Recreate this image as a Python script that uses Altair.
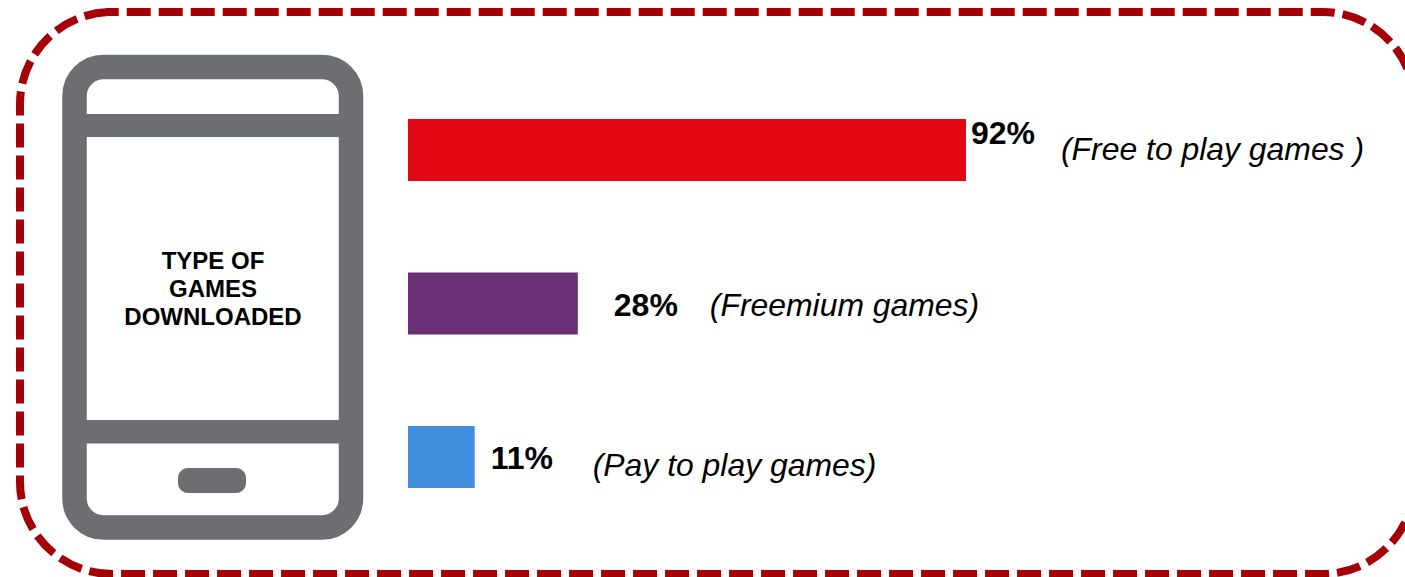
import altair as alt
import pandas as pd

# Survey shares of downloaded game types
categories = ["Free to play games", "Freemium games", "Pay to play games"]
shares = [92, 28, 11]
descriptions = ["(Free to play games )", "(Freemium games)", "(Pay to play games)"]
bar_colors = ["#E30613", "#6B2F76", "#428FE0"]
phone_caption = ["TYPE OF", "GAMES", "DOWNLOADED"]

FONT = "Liberation Sans"
PHONE_GREY = "#6D6E71"
FRAME_RED = "#A50008"

table = pd.DataFrame(
    {
        "category": categories,
        "share": shares,
        "label": [f"{s}%" for s in shares],
        "description": descriptions,
    }
)

x_scale = alt.Scale(domain=[0, 100], range=[408, 1014.5])
y_scale = alt.Scale(domain=categories, range=[119, 488], paddingInner=0.596, paddingOuter=0)
x_enc = alt.X("share:Q", scale=x_scale, axis=None)
y_enc = alt.Y("category:N", scale=y_scale, axis=None, sort=categories)


def box(left, top, right, bottom, **mark):
    """A free-standing rounded box placed in pixel space."""
    return alt.Chart(alt.Data(values=[{}])).mark_rect(**mark).encode(
        x=alt.value(left), x2=alt.value(right), y=alt.value(top), y2=alt.value(bottom)
    )


# Dashed frame running off the right edge; the small patch joins the dash
# where the rounded path closes on itself
frame = box(
    20, 12, 1414.5, 574,
    fillOpacity=0, stroke=FRAME_RED, strokeWidth=8, cornerRadius=92,
    strokeDash=[24, 8], strokeDashOffset=17.3, clip=True,
)
frame_join = box(106, 8, 113, 16, fill=FRAME_RED)

phone_body = box(
    74.5, 67, 351, 527.5,
    fillOpacity=0, stroke=PHONE_GREY, strokeWidth=24.5, cornerRadius=29,
)
phone_top_bar = box(74.5, 114, 351, 137, fill=PHONE_GREY)
phone_bottom_bar = box(74.5, 420, 351, 443.5, fill=PHONE_GREY)
phone_button = box(178, 468, 246, 493, fill=PHONE_GREY, cornerRadius=10)

caption_layers = [
    alt.Chart(alt.Data(values=[{"t": line}]))
    .mark_text(font=FONT, fontSize=24, fontWeight="bold", color="black", align="center", baseline="alphabetic")
    .encode(x=alt.value(213), y=alt.value(269 + 28 * i), text="t:N")
    for i, line in enumerate(phone_caption)
]

bars = (
    alt.Chart(table)
    .mark_bar()
    .encode(
        x=x_enc,
        x2=alt.datum(0),
        y=y_enc,
        color=alt.Color("category:N", scale=alt.Scale(domain=categories, range=bar_colors), legend=None),
    )
)

# Each row's texts sit at their own distance from the bar end
label_offsets = [(5, -6.5), (36, 12), (16, 12.5)]
desc_offsets = [(95, 10), (132, 12), (118, 19)]
text_layers = []
for i in range(len(categories)):
    row = table.iloc[[i]]
    dx, dy = label_offsets[i]
    text_layers.append(
        alt.Chart(row)
        .mark_text(font=FONT, fontSize=32, fontWeight="bold", color="black", align="left",
                   baseline="alphabetic", dx=dx, dy=dy)
        .encode(x=x_enc, y=y_enc, text="label:N")
    )
    dx, dy = desc_offsets[i]
    text_layers.append(
        alt.Chart(row)
        .mark_text(font=FONT, fontSize=31.9, fontStyle="italic", color="black", align="left",
                   baseline="alphabetic", dx=dx, dy=dy)
        .encode(x=x_enc, y=y_enc, text="description:N")
    )

chart = (
    alt.layer(
        frame, frame_join, phone_body, phone_top_bar, phone_bottom_bar, phone_button,
        *caption_layers, bars, *text_layers,
    )
    .resolve_scale(x="shared", y="shared")
    .properties(
        width=1405, height=577, padding=0, background="white",
        autosize=alt.AutoSizeParams(type="none"),
    )
    .configure_view(strokeWidth=0)
)

chart.save("out.html", embed_options={"renderer": "svg", "actions": False})
